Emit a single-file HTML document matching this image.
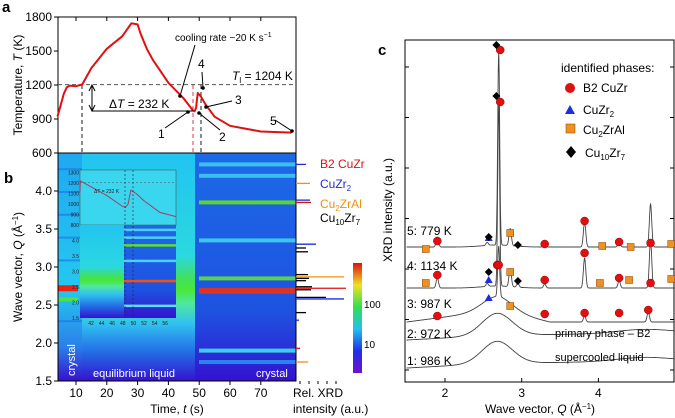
<!DOCTYPE html>
<html><head><meta charset="utf-8"><style>
body{margin:0;background:#fff}
svg{display:block;font-family:"Liberation Sans",Arial,sans-serif}
</style></head><body>
<svg id="fig" width="675" height="418" viewBox="0 0 675 418" xmlns="http://www.w3.org/2000/svg">
<defs>
<linearGradient id="gLiq" x1="0" y1="0" x2="0" y2="1">
<stop offset="0" stop-color="#22c4f0"/><stop offset="0.45" stop-color="#2ad8e0"/><stop offset="0.55" stop-color="#40e060"/><stop offset="0.6" stop-color="#48e838"/><stop offset="0.66" stop-color="#50e8a0"/><stop offset="0.75" stop-color="#30c0f0"/><stop offset="0.88" stop-color="#2468e4"/><stop offset="1" stop-color="#3412d0"/></linearGradient>
<linearGradient id="gCry" x1="0" y1="0" x2="0" y2="1">
<stop offset="0" stop-color="#1c6ae8"/><stop offset="0.7" stop-color="#1e52e0"/><stop offset="1" stop-color="#3412d0"/></linearGradient>
<linearGradient id="gLeft" x1="0" y1="0" x2="0" y2="1">
<stop offset="0" stop-color="#20a8f0"/><stop offset="0.6" stop-color="#24c8f0"/><stop offset="0.85" stop-color="#2a80e8"/><stop offset="1" stop-color="#3412d0"/></linearGradient>
<linearGradient id="gBar" x1="0" y1="1" x2="0" y2="0">
<stop offset="0" stop-color="#7010d0"/><stop offset="0.2" stop-color="#2030e8"/><stop offset="0.4" stop-color="#20c0f0"/><stop offset="0.6" stop-color="#30e050"/><stop offset="0.8" stop-color="#f0e020"/><stop offset="1" stop-color="#e01010"/></linearGradient>
</defs>
<g id="pa"></g><g id="pb"></g><g id="pc"></g>
</svg>
<script>
// ---- Panel a data ----
const tTimes=[4,6,7,8,10,12,15,20,25,28,30,31,33,35,40,45,48,48.5,49,49.5,50.5,52,55,60,70,80];
const tTemps=[920,1120,1180,1195,1190,1205,1350,1520,1630,1745,1735,1650,1520,1420,1220,1080,975,968,1000,1130,1100,1030,920,840,790,780];
const aYTicks=[600,900,1200,1500,1800];
const bXTicks=[10,20,30,40,50,60,70];
const bYTicks=[1.5,2.0,2.5,3.0,3.5,4.0];
// crystal lines (Q, color)
const cryQ=[4.35,4.2,3.85,3.35,2.85,2.7,1.9,1.75];
const cryCol=["#40c8f0","#40c8f0","#60e020","#40d0f0","#60e040","#f03010","#40e0f0","#2890f0"];
// stick pattern
const stickQ=[4.35,4.1,3.88,3.85,3.3,3.25,3.2,2.9,2.87,2.85,2.82,2.74,2.72,2.7,2.6,2.58,2.4,2.3,1.93,1.75];
const stickLen=[10,14,14,15,20,10,12,12,48,13,10,16,50,15,30,48,10,3,4,12];
const stickCol=["#1a2ee0","#f09010","#1a2ee0","#e01010","#1a2ee0","#000","#000","#000","#f09010","#000","#000","#000","#e01010","#000","#000","#1a2ee0","#000","#1a2ee0","#e01010","#f09010"];
// ---- Panel c data ----
const cTicks=[2,3,4];
const curveLabels=["1: 986 K","2: 972 K","3: 987 K","4: 1134 K","5: 779 K"];
const curveBase=[368,340,322,288,247];
const curveHump=[22,22,14,2,2];
const pk3Q=[2.7,3.82,4.65],pk3H=[50,6,10];
const pk4Q=[1.9,2.55,2.7,2.85,2.95,3.3,3.82,4.27,4.68],pk4H=[10,3,180,18,4,4,30,7,48];
const pk5Q=[1.9,2.55,2.7,2.85,2.95,3.3,3.82,4.05,4.27,4.68,4.95],pk5H=[10,3,192,17,3,4,25,3,6,43,4];
const b2Q=[2.68,1.9,3.3,3.82,4.27,4.65,1.9,2.7,3.3,3.82,4.27,4.68,1.9,3.3,3.82,4.27,4.68,2.72,2.72];
const b2Y=[265,316,314,313,313,310,275,265,280,253,278,283,241,244,221,242,243,102,50];
const triQ=[2.57,2.57,2.57],triY=[298,280,238];
const sqQ=[2.85,1.75,2.85,4.02,4.4,4.95,1.75,2.85,4.05,4.42,4.95],sqY=[306,283,272,283,280,279,249,233,246,247,244];
const diQ=[2.57,2.95,2.57,2.95,2.67,2.67],diY=[272,281,237,245,96,45];

const NS="http://www.w3.org/2000/svg";
function mk(parent,tag,attrs,txt){const e=document.createElementNS(NS,tag);for(const k in attrs)e.setAttribute(k,attrs[k]);if(txt!==undefined)e.textContent=txt;parent.appendChild(e);return e;}
const pa=document.getElementById('pa'),pb=document.getElementById('pb'),pc=document.getElementById('pc');
const X=t=>76+(t-10)*3.08;
const YT=T=>153-(T-600)*0.1133;
const YQ=q=>381-(q-1.5)*76;

// ---- Panel b heatmap ----
let r;
r=mk(pb,'rect',{x:58,y:153,width:24,height:228,fill:'url(#gLeft)'});

r=mk(pb,'rect',{x:82,y:153,width:113,height:228,fill:'url(#gLiq)'});

r=mk(pb,'rect',{x:195,y:153,width:101,height:228,fill:'url(#gCry)'});

for(let i=0;i<6;i++){const q=[4.3,4.0,3.7,3.4,3.1,2.3][i];const l=mk(pb,'rect',{x:58,y:YQ(q),width:24,height:2,fill:'#1a70e8',opacity:0.6});}
r=mk(pb,'rect',{x:58,y:YQ(2.72)-3,width:20,height:6,fill:'#f02010'});
r=mk(pb,'rect',{x:58,y:YQ(2.6),width:20,height:4,fill:'#50e040'});
cryQ.forEach((q,i)=>{const l=mk(pb,'rect',{x:199,y:YQ(q)-2,width:97,height:(q==2.7?6:4),fill:cryCol[i],opacity:0.9});
});
// inset
const ins=mk(pb,'g',{});
mk(ins,'rect',{x:80,y:170,width:96,height:55,fill:'#3ad6f0',stroke:'#444','stroke-width':0.5});
mk(ins,'rect',{x:80,y:225,width:96,height:93,fill:'url(#gLiq)'});
mk(ins,'rect',{x:124,y:225,width:52,height:93,fill:'url(#gCry)'});
[[4.35,'#50d0f0'],[4.1,'#50d0f0'],[3.85,'#60e020'],[3.35,'#50d0f0'],[2.7,'#f05010'],[1.9,'#60e0f0']].forEach(a=>{
 const yy=318-(a[0]-1.5)*(93/3.0);const l=mk(ins,'rect',{x:124,y:yy-1,width:52,height:2.5,fill:a[1]});});
const IX=t=>91+(t-42)*5.3, IT=T=>225-(T-800)*0.105;
let ip='';tTimes.forEach((t,i)=>{if(t>=40&&t<=58)ip+=(ip?'L':'M')+IX(t).toFixed(1)+','+IT(tTemps[i]).toFixed(1);});
ip='M80,'+IT(1110).toFixed(1)+'L'+ip.slice(1)+'L176,'+IT(880).toFixed(1);
mk(ins,'path',{d:ip,fill:'none',stroke:'#a04060','stroke-width':1});
mk(ins,'line',{x1:80,y1:IT(1204),x2:176,y2:IT(1204),stroke:'#555','stroke-width':0.5,'stroke-dasharray':'2,2'});
mk(ins,'text',{x:94,y:193,'font-size':5,fill:'#222'},'ΔT = 232 K');
[1300,1200,1100,1000,900,800].forEach(v=>mk(ins,'text',{x:79,y:IT(v)+2,'font-size':5,fill:'#222','text-anchor':'end'},v));
[1.5,2.0,2.5,3.0,3.5,4.0].forEach(v=>mk(ins,'text',{x:79,y:318-(v-1.5)*31+2,'font-size':5,fill:'#222','text-anchor':'end'},v.toFixed(1)));
[42,44,46,48,50,52,54,56].forEach(v=>mk(ins,'text',{x:IX(v),y:325,'font-size':5,fill:'#222','text-anchor':'middle'},v));
mk(ins,'line',{x1:125,y1:170,x2:125,y2:318,stroke:'#222','stroke-width':0.6,'stroke-dasharray':'2,2'});
mk(ins,'line',{x1:133,y1:170,x2:133,y2:318,stroke:'#222','stroke-width':0.6,'stroke-dasharray':'2,2'});
// frame b
mk(pb,'rect',{x:58,y:153,width:238,height:228,fill:'none',stroke:'#000','stroke-width':1});
bXTicks.forEach(v=>{mk(pb,'line',{x1:X(v),y1:381,x2:X(v),y2:385,stroke:'#000'});const t=mk(pb,'text',{x:X(v),y:397,'font-size':12,'text-anchor':'middle'},v);});
bYTicks.forEach(v=>{mk(pb,'line',{x1:54,y1:YQ(v),x2:58,y2:YQ(v),stroke:'#000'});const t=mk(pb,'text',{x:52,y:YQ(v)+4,'font-size':12,'text-anchor':'end'},v.toFixed(1));});
let t=mk(pb,'text',{x:177,y:413,'font-size':12,'text-anchor':'middle'});t.innerHTML='Time, <tspan font-style="italic">t</tspan> (s)';
t=mk(pb,'text',{x:0,y:0,'font-size':12,'text-anchor':'middle',transform:'translate(22,267) rotate(-90)'});t.innerHTML='Wave vector, <tspan font-style="italic">Q</tspan> (Å<tspan dy="-4" font-size="8">−1</tspan><tspan dy="4">)</tspan>';
t=mk(pb,'text',{x:0,y:0,'font-size':11,fill:'#fff',transform:'translate(75,376) rotate(-90)'},'crystal');
t=mk(pb,'text',{x:93,y:377,'font-size':11,fill:'#fff'},'equilibrium liquid');
t=mk(pb,'text',{x:256,y:377,'font-size':11,fill:'#fff'},'crystal');
t=mk(pb,'text',{x:4,y:183,'font-size':15,'font-weight':'bold'},'b');
// sticks
stickQ.forEach((q,i)=>{const l=mk(pb,'line',{x1:296,y1:YQ(q),x2:296+stickLen[i],y2:YQ(q),stroke:stickCol[i],'stroke-width':1.3});});
for(let i=0;i<5;i++)mk(pb,'line',{x1:300+i*9,y1:381,x2:300+i*9,y2:384,stroke:'#000'});
t=mk(pb,'text',{x:293,y:397,'font-size':12},'Rel. XRD');
mk(pb,'text',{x:293,y:413,'font-size':12},'intensity (a.u.)');
[['B2 CuZr','#e01010',168],['CuZr<tspan dy="3" font-size="8">2</tspan>','#1a2ee0',188],['Cu<tspan dy="3" font-size="8">2</tspan><tspan dy="-3">ZrAl</tspan>','#f09010',208],['Cu<tspan dy="3" font-size="8">10</tspan><tspan dy="-3">Zr</tspan><tspan dy="3" font-size="8">7</tspan>','#000',222]].forEach(a=>{const e=mk(pb,'text',{x:320,y:a[2],'font-size':12,fill:a[1]});e.innerHTML=a[0];});
r=mk(pb,'rect',{x:353,y:263,width:9,height:110,fill:'url(#gBar)'});
mk(pb,'text',{x:364,y:308,'font-size':10},'100');mk(pb,'text',{x:364,y:348,'font-size':10},'10');

// ---- Panel a ----
mk(pa,'rect',{x:58,y:17,width:238,height:136,fill:'none',stroke:'#000'});
aYTicks.forEach(v=>{mk(pa,'line',{x1:54,y1:YT(v),x2:58,y2:YT(v),stroke:'#000'});const e=mk(pa,'text',{x:52,y:YT(v)+4,'font-size':12,'text-anchor':'end'},v);});
bXTicks.forEach(v=>mk(pa,'line',{x1:X(v),y1:17,x2:X(v),y2:21,stroke:'#000'}));
mk(pa,'line',{x1:58,y1:YT(1204),x2:296,y2:YT(1204),stroke:'#555','stroke-dasharray':'4,3'});
[[82,'#000'],[193,'#e02040'],[201,'#000']].forEach(a=>{const l=mk(pa,'line',{x1:a[0],y1:85,x2:a[0],y2:381,stroke:a[1],'stroke-dasharray':'4,3','stroke-width':0.9});});
let d='';tTimes.forEach((tt,i)=>{d+=(i?'L':'M')+X(tt).toFixed(1)+','+YT(tTemps[i]).toFixed(1);});
let p=mk(pa,'path',{d:d,fill:'none',stroke:'#e01010','stroke-width':2,'stroke-linejoin':'round'});
mk(pa,'line',{x1:92,y1:111,x2:193,y2:111,stroke:'#000'});
mk(pa,'line',{x1:92,y1:86,x2:92,y2:110,stroke:'#000'});
mk(pa,'path',{d:'M89,91L92,85L95,91M89,105L92,111L95,105',fill:'none',stroke:'#000'});
t=mk(pa,'text',{x:109,y:108,'font-size':12});t.innerHTML='Δ<tspan font-style="italic">T</tspan> = 232 K';
t=mk(pa,'text',{x:232,y:80,'font-size':12});t.innerHTML='<tspan font-style="italic">T</tspan><tspan dy="3" font-size="8">l</tspan><tspan dy="-3"> = 1204 K</tspan>';
t=mk(pa,'text',{x:175,y:41,'font-size':10});t.innerHTML='cooling rate ~20 K s<tspan dy="-4" font-size="7">−1</tspan>';
const arr=[[195,45,180,96],[165,128,188,112],[220,130,199,113],[232,101,206,107],[202,72,203,88],[275,120,292,131]];
arr.forEach(a=>{mk(pa,'line',{x1:a[0],y1:a[1],x2:a[2],y2:a[3],stroke:'#000'});mk(pa,'circle',{cx:a[2],cy:a[3],r:1.8,fill:'#000'});});
[['1',158,138],['2',219,141],['3',235,104],['4',198,68],['5',270,125]].forEach(a=>{const e=mk(pa,'text',{x:a[1],y:a[2],'font-size':12},a[0]);});
t=mk(pa,'text',{x:0,y:0,'font-size':12,'text-anchor':'middle',transform:'translate(22,85) rotate(-90)'});t.innerHTML='Temperature, <tspan font-style="italic">T</tspan> (K)';
t=mk(pa,'text',{x:2,y:12,'font-size':15,'font-weight':'bold'},'a');

// ---- Panel c ----
const XC=q=>445+(q-2)*76.7;
mk(pc,'rect',{x:405,y:40,width:269,height:342,fill:'none',stroke:'#000'});
cTicks.forEach(v=>{mk(pc,'line',{x1:XC(v),y1:382,x2:XC(v),y2:378,stroke:'#000'});const e=mk(pc,'text',{x:XC(v),y:397,'font-size':12,'text-anchor':'middle'},v);});
for(let i=0;i<7;i++){mk(pc,'line',{x1:405,y1:370-i*50.5,x2:409,y2:370-i*50.5,stroke:'#000'});mk(pc,'line',{x1:674,y1:370-i*50.5,x2:670,y2:370-i*50.5,stroke:'#000'});}
const pks=[[[],[]],[[],[]],[pk3Q,pk3H],[pk4Q,pk4H],[pk5Q,pk5H]];
const labY=[365,338,308,270,235];
for(let c=0;c<5;c++){let dd='';for(let q=1.5;q<=5.0;q+=0.003){let I=curveHump[c]*Math.exp(-Math.pow((q-2.68)/0.28,2))+ (c<2?4*Math.exp(-Math.pow((q-4.6)/0.5,2)):0);
 if(c<2)I+=(q-1.5)*4-(q>2.68?(q-2.68)*3:0);
 if(c==2){I+=(q<2.7?(q-1.5)*10:Math.max(0,12-(q-2.7)*18));}
 const P=pks[c];for(let k=0;k<P[0].length;k++){const w=(P[0][k]==2.7?0.018:0.022);I+=P[1][k]*Math.exp(-Math.pow((q-P[0][k])/w,2));}
 dd+=(dd?'L':'M')+XC(q).toFixed(1)+','+(curveBase[c]-I).toFixed(1);}
 const pp=mk(pc,'path',{d:dd,fill:'none',stroke:'#444','stroke-width':0.9});
 const e=mk(pc,'text',{x:407,y:labY[c],'font-size':12},curveLabels[c]);}
b2Q.forEach((q,i)=>{const m=mk(pc,'circle',{cx:XC(q),cy:b2Y[i],r:4,fill:'#e01010',stroke:'#900','stroke-width':0.5});});
triQ.forEach((q,i)=>{const x=XC(q),y=triY[i];const m=mk(pc,'path',{d:`M${x-4},${y+3}L${x+4},${y+3}L${x},${y-4}Z`,fill:'#1a2ee0'});});
sqQ.forEach((q,i)=>{const m=mk(pc,'rect',{x:XC(q)-3.5,y:sqY[i]-3.5,width:7,height:7,fill:'#f09020',stroke:'#804000','stroke-width':0.5});});
diQ.forEach((q,i)=>{const x=XC(q),y=diY[i];const m=mk(pc,'path',{d:`M${x},${y-4}L${x+4},${y}L${x},${y+4}L${x-4},${y}Z`,fill:'#000'});});
mk(pc,'text',{x:561,y:72,'font-size':12},'identified phases:');
mk(pc,'circle',{cx:570,cy:88,r:5,fill:'#e01010'});mk(pc,'text',{x:583,y:92,'font-size':12},'B2 CuZr');
mk(pc,'path',{d:'M565,114L575,114L570,105Z',fill:'#1a2ee0'});let e=mk(pc,'text',{x:583,y:114,'font-size':12});e.innerHTML='CuZr<tspan dy="3" font-size="8">2</tspan>';
mk(pc,'rect',{x:566,y:124,width:9,height:9,fill:'#f09020',stroke:'#804000','stroke-width':0.5});e=mk(pc,'text',{x:583,y:134,'font-size':12});e.innerHTML='Cu<tspan dy="3" font-size="8">2</tspan><tspan dy="-3">ZrAl</tspan>';
mk(pc,'path',{d:'M571,146L576,152L571,158L566,152Z',fill:'#000'});e=mk(pc,'text',{x:585,y:157,'font-size':12});e.innerHTML='Cu<tspan dy="3" font-size="8">10</tspan><tspan dy="-3">Zr</tspan><tspan dy="3" font-size="8">7</tspan>';
mk(pc,'text',{x:555,y:337,'font-size':11},'primary phase – B2');
mk(pc,'text',{x:555,y:361,'font-size':11},'supercooled liquid');
t=mk(pc,'text',{x:0,y:0,'font-size':12,'text-anchor':'middle',transform:'translate(392,210) rotate(-90)'},'XRD intensity (a.u.)');
t=mk(pc,'text',{x:540,y:413,'font-size':12,'text-anchor':'middle'});t.innerHTML='Wave vector, <tspan font-style="italic">Q</tspan> (Å<tspan dy="-4" font-size="8">−1</tspan><tspan dy="4">)</tspan>';
t=mk(pc,'text',{x:378,y:55,'font-size':15,'font-weight':'bold'},'c');
</script>
</body></html>
